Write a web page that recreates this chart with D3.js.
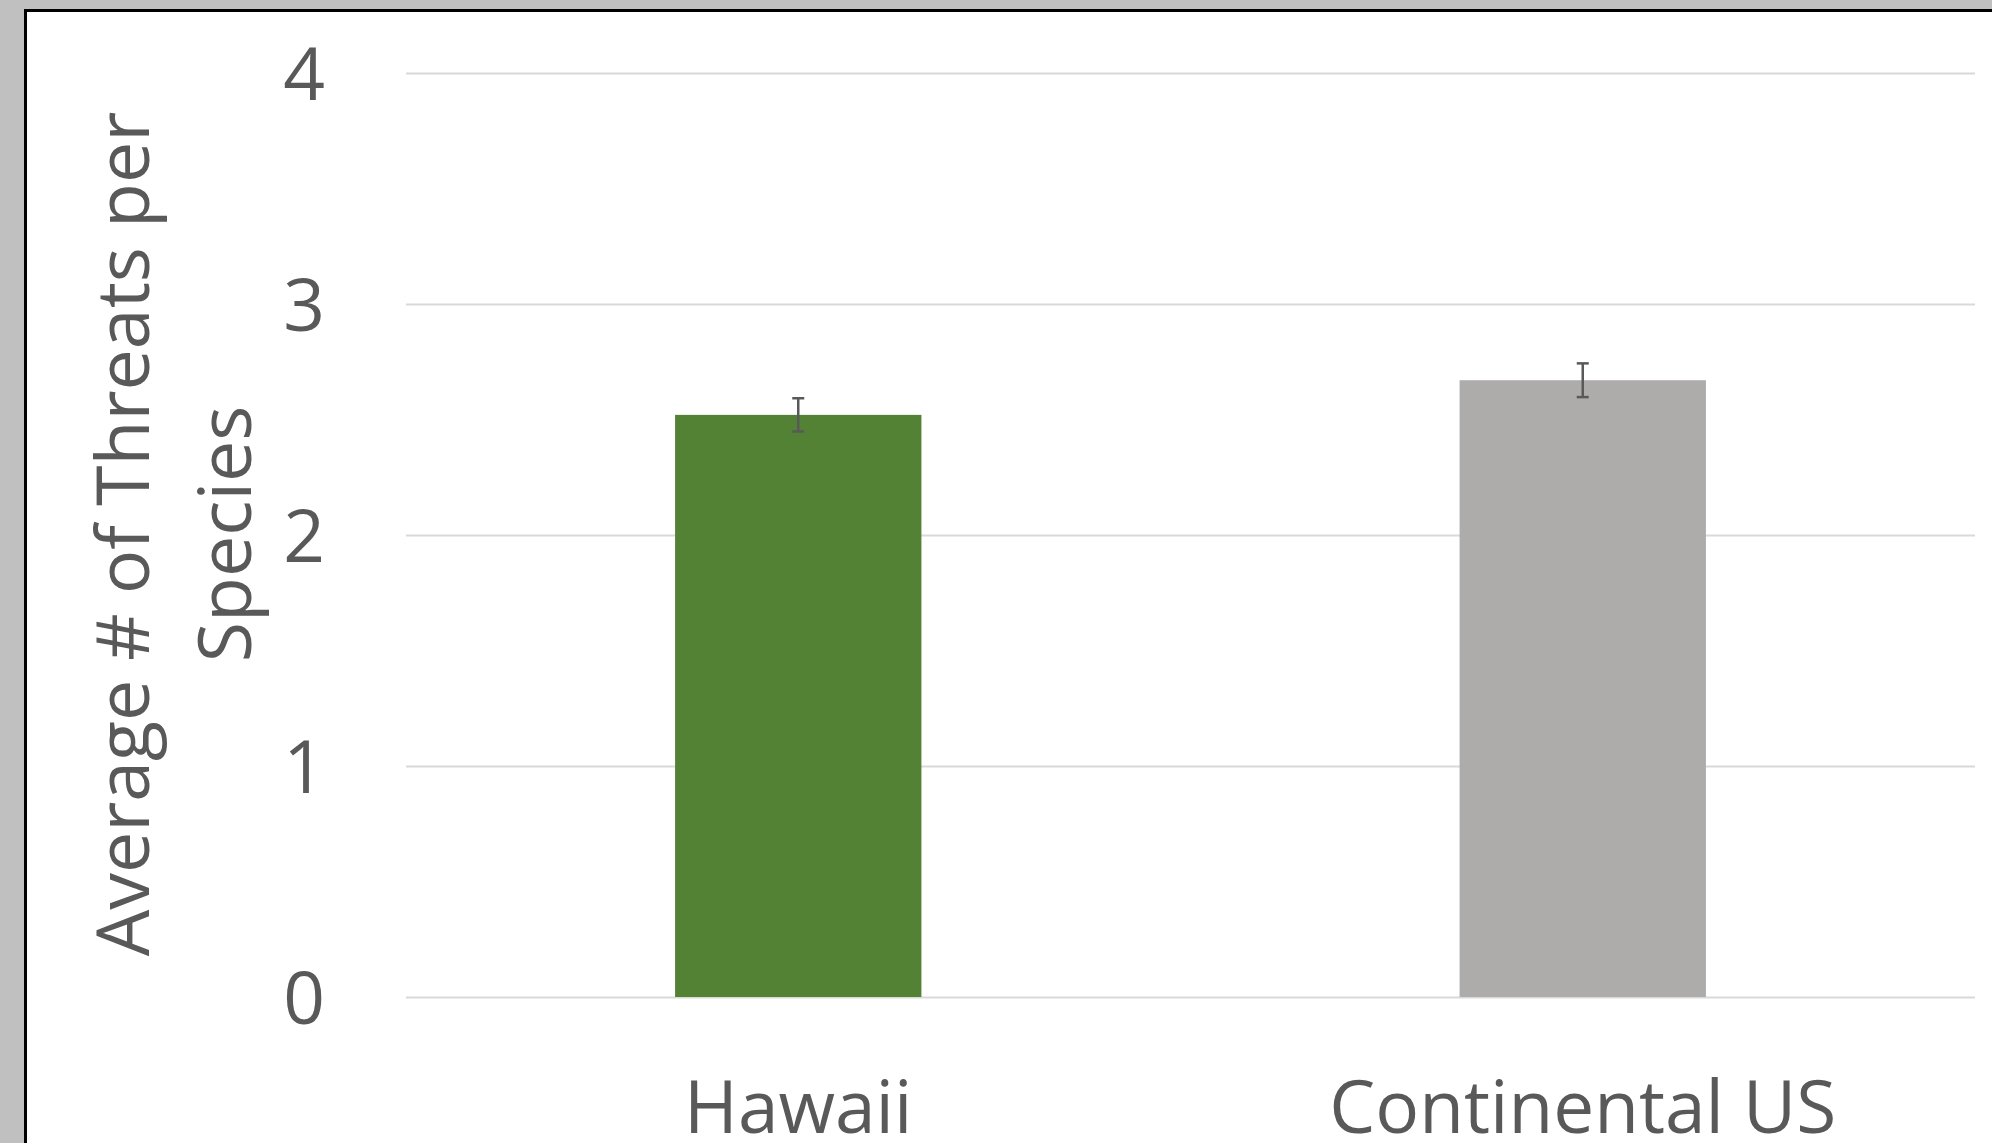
<!DOCTYPE html>
<html>
<head>
<meta charset="utf-8">
<script src="https://cdn.jsdelivr.net/npm/d3@7"></script>
<style>
  html, body { margin: 0; padding: 0; background: #c0c0c0; }
  svg { display: block; }
  text { font-family: "Open Sans", sans-serif; fill: #595959; }
</style>
</head>
<body>
<div class="container"></div>
<script>
// chart data
var categories = ['Hawaii', 'Continental US'];
var means = [2.52, 2.67];
var errors = [0.072, 0.073];
var barColors = ['#548235', '#aeabab'];
var yTicks = [0, 1, 2, 3, 4];
var yTitle = ['Average # of Threats per', 'Species'];

var svgWidth = 1992,
    svgHeight = 1143,
    plotLeft = 406, plotRight = 1975,
    plotTop = 73, plotBottom = 997;

var svg = d3.select('.container').append('svg')
    .attr('width', svgWidth).attr('height', svgHeight);

// white chart area with the black edge on left and top
svg.append('rect')
   .attr('x', 25.5).attr('y', 10.5)
   .attr('width', svgWidth).attr('height', svgHeight)
   .attr('fill', '#fff')
   .attr('stroke', '#000')
   .attr('stroke-width', 3);

var x = d3.scaleBand().domain(categories).range([plotLeft, plotRight]).padding(0);
var y = d3.scaleLinear().domain([0, 4]).range([plotBottom, plotTop]);

// y axis + gridlines
var yAxis = svg.append('g')
    .attr('transform', 'translate(' + plotLeft + ',0)')
    .call(d3.axisLeft(y).tickValues(yTicks).tickFormat(d3.format('d'))
        .tickSize(-(plotRight - plotLeft)).tickPadding(81));
yAxis.select('.domain').remove();
yAxis.selectAll('.tick line').attr('stroke', '#d9d9d9').attr('stroke-width', 2);
yAxis.selectAll('.tick text')
     .attr('font-size', 73).attr('dy', '0.36em')
     .style('font-family', '"Open Sans", sans-serif').attr('fill', '#595959');

// bars
var barWidth = x.bandwidth() * 0.314;
svg.selectAll('rect.bar')
   .data(categories)
   .enter()
   .append('rect')
   .attr('class', 'bar')
   .attr('x', function (d) { return x(d) + x.bandwidth() / 2 - barWidth / 2; })
   .attr('width', barWidth)
   .attr('y', function (d, i) { return y(means[i]); })
   .attr('height', function (d, i) { return y(0) - y(means[i]); })
   .attr('fill', function (d, i) { return barColors[i]; });

// error bars
var errG = svg.selectAll('g.err')
   .data(categories)
   .enter()
   .append('g')
   .attr('class', 'err')
   .attr('stroke', '#595959')
   .attr('stroke-width', 2.5);
errG.append('line')
   .attr('x1', function (d) { return x(d) + x.bandwidth() / 2; })
   .attr('x2', function (d) { return x(d) + x.bandwidth() / 2; })
   .attr('y1', function (d, i) { return y(means[i] + errors[i]); })
   .attr('y2', function (d, i) { return y(means[i] - errors[i]); });
[1, -1].forEach(function (s) {
    errG.append('line')
       .attr('x1', function (d) { return x(d) + x.bandwidth() / 2 - 6; })
       .attr('x2', function (d) { return x(d) + x.bandwidth() / 2 + 6; })
       .attr('y1', function (d, i) { return y(means[i] + s * errors[i]); })
       .attr('y2', function (d, i) { return y(means[i] + s * errors[i]); });
});

// x axis labels
var xAxis = svg.append('g')
    .attr('transform', 'translate(0,' + plotBottom + ')')
    .call(d3.axisBottom(x).tickSize(0).tickPadding(84));
xAxis.select('.domain').remove();
xAxis.selectAll('.tick text')
     .attr('font-size', 73)
     .style('font-family', '"Open Sans", sans-serif').attr('fill', '#595959');

// y axis title, two lines
var title = svg.append('text')
    .attr('transform', 'translate(149,534) rotate(-90)')
    .attr('text-anchor', 'middle')
    .attr('font-size', 73.5);
title.selectAll('tspan')
    .data(yTitle)
    .enter()
    .append('tspan')
    .attr('x', 0)
    .attr('y', function (d, i) { return i * 102; })
    .text(function (d) { return d; });
</script>
</body>
</html>
